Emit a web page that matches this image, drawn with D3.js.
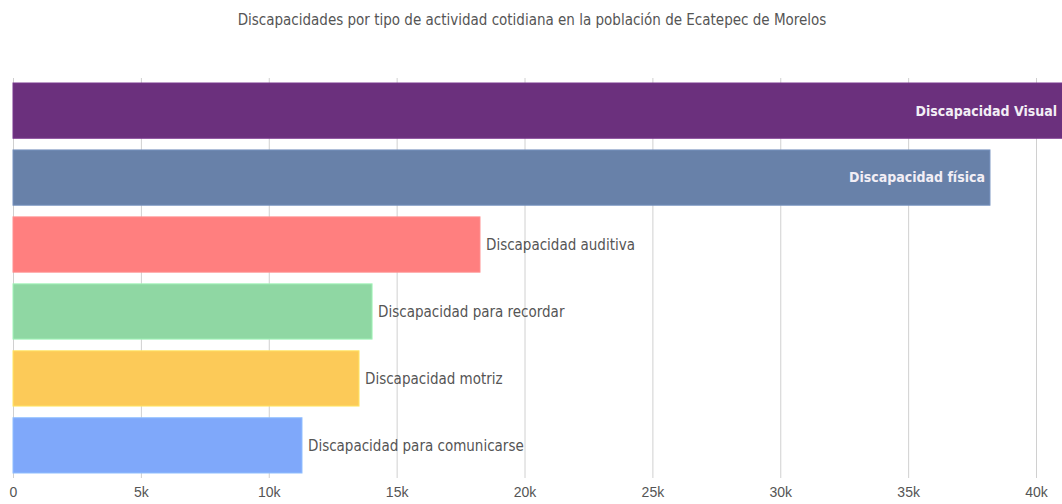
<!DOCTYPE html>
<html>
<head>
<meta charset="utf-8">
<script src="https://cdn.jsdelivr.net/npm/d3@7"></script>
<style>
  html, body { margin: 0; padding: 0; background: #fff; }
  svg { display: block; font-family: "Liberation Sans Narrow", "DejaVu Sans Condensed", "Open Sans", sans-serif; }
</style>
</head>
<body>
<svg id="chart" width="1062" height="504"></svg>
<script>
// Discapacidades por tipo de actividad cotidiana — Ecatepec de Morelos
const title = "Discapacidades por tipo de actividad cotidiana en la población de Ecatepec de Morelos";
const categories = [
  "Discapacidad Visual",
  "Discapacidad física",
  "Discapacidad auditiva",
  "Discapacidad para recordar",
  "Discapacidad motriz",
  "Discapacidad para comunicarse"
];
const values = [42500, 38200, 18260, 14040, 13530, 11300];
const colors = ["#6b307d", "#6881a9", "#ff7f7f", "#8fd7a3", "#fcca58", "#7fa8fa"];
const tickValues = [0, 5000, 10000, 15000, 20000, 25000, 30000, 35000, 40000];
const tickLabels = ["0", "5k", "10k", "15k", "20k", "25k", "30k", "35k", "40k"];
// bars this long carry their label inside
const insideLabels = [true, true, false, false, false, false];

const W = 1062, H = 504;
const margin = { top: 83, right: 0, bottom: 32, left: 13 };
const svg = d3.select("#chart");

const x = d3.scaleLinear().domain([0, 40000]).range([margin.left, 1036]);
const y = d3.scaleBand().domain(categories).range([margin.top, 473]).paddingInner(0.175).paddingOuter(0);

svg.append("defs").append("clipPath").attr("id", "plot")
  .append("rect").attr("x", 0).attr("y", 0).attr("width", W).attr("height", H);

// title
svg.append("text")
  .attr("x", 532).attr("y", 25)
  .attr("text-anchor", "middle")
  .attr("fill", "#555")
  .style("font-size", "15px")
  .text(title);

// gridlines + tick labels
const axis = d3.axisBottom(x)
  .tickValues(tickValues)
  .tickSize(-(478 - 78))
  .tickFormat((d, i) => tickLabels[i]);

const gAxis = svg.append("g")
  .attr("transform", "translate(0,478)")
  .call(axis);
gAxis.select(".domain").remove();
gAxis.selectAll(".tick line").attr("stroke", "#d0d0d0").attr("stroke-width", 1);
gAxis.selectAll(".tick text")
  .attr("fill", "#555")
  .attr("y", 9)
  .style("font-size", "14px")
  .style("font-family", "inherit");

// bars
const bars = svg.append("g").attr("clip-path", "url(#plot)");
bars.selectAll("rect")
  .data(categories)
  .join("rect")
  .attr("x", x(0))
  .attr("y", d => y(d))
  .attr("width", (d, i) => x(values[i]) - x(0))
  .attr("height", y.bandwidth())
  .attr("fill", (d, i) => colors[i])
  .attr("stroke", (d, i) => d3.color(colors[i]).brighter(0.35))
  .attr("stroke-width", 1);

// labels
svg.append("g").selectAll("text")
  .data(categories)
  .join("text")
  .attr("x", (d, i) => insideLabels[i]
        ? Math.min(x(values[i]), W) - 5
        : x(values[i]) + 6)
  .attr("y", d => y(d) + y.bandwidth() / 2)
  .attr("dy", "0.35em")
  .attr("text-anchor", (d, i) => insideLabels[i] ? "end" : "start")
  .attr("fill", (d, i) => insideLabels[i] ? "#f2eef5" : "#555")
  .style("font-weight", (d, i) => insideLabels[i] ? "bold" : "normal")
  .style("font-size", (d, i) => insideLabels[i] ? "14px" : "15px")
  .text(d => d);
</script>
</body>
</html>
